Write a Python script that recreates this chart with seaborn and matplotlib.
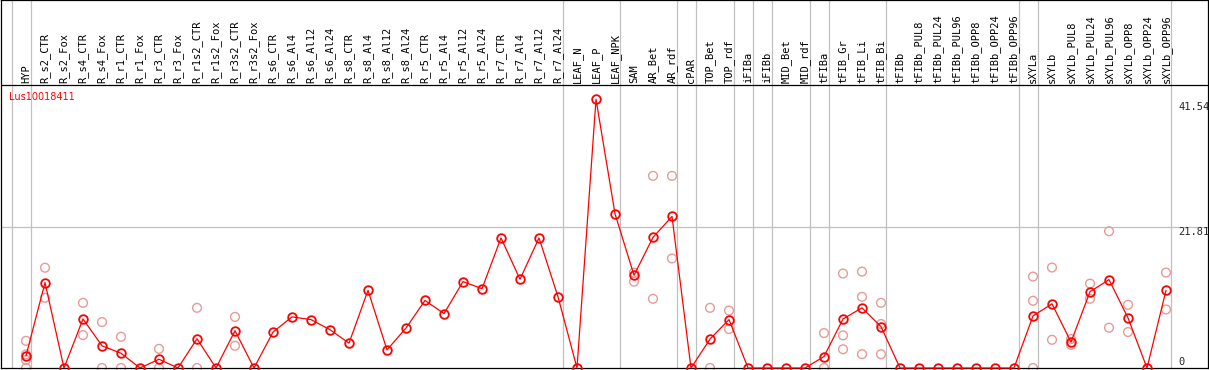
import pandas as pd
import numpy as np
import matplotlib
matplotlib.use('Agg')
import matplotlib.pyplot as plt
import seaborn as sns

sns.set_style('white')
plt.rcParams['font.family'] = ['DejaVu Sans']

# Datos
gene = 'Lus10018411'
categories = ['HYP', 'R_s2_CTR', 'R_s2_Fox', 'R_s4_CTR', 'R_s4_Fox', 'R_r1_CTR', 'R_r1_Fox',
              'R_r3_CTR', 'R_r3_Fox', 'R_r1s2_CTR', 'R_r1s2_Fox', 'R_r3s2_CTR', 'R_r3s2_Fox',
              'R_s6_CTR', 'R_s6_Al4', 'R_s6_Al12', 'R_s6_Al24', 'R_s8_CTR', 'R_s8_Al4',
              'R_s8_Al12', 'R_s8_Al24', 'R_r5_CTR', 'R_r5_Al4', 'R_r5_Al12', 'R_r5_Al24',
              'R_r7_CTR', 'R_r7_Al4', 'R_r7_Al12', 'R_r7_Al24', 'LEAF_N', 'LEAF_P', 'LEAF_NPK',
              'SAM', 'AR_Bet', 'AR_rdf', 'cPAR', 'TOP_Bet', 'TOP_rdf', 'iFIBa', 'iFIBb',
              'MID_Bet', 'MID_rdf', 'tFIBa', 'tFIB_Gr', 'tFIB_Li', 'tFIB_Bi', 'tFIBb',
              'tFIBb_PUL8', 'tFIBb_PUL24', 'tFIBb_PUL96', 'tFIBb_OPP8', 'tFIBb_OPP24',
              'tFIBb_OPP96', 'sXYLa', 'sXYLb', 'sXYLb_PUL8', 'sXYLb_PUL24', 'sXYLb_PUL96',
              'sXYLb_OPP8', 'sXYLb_OPP24', 'sXYLb_OPP96']

means = [1.87, 13.2, 0, 7.58, 3.43, 2.28, 0, 1.35, 0, 4.52, 0, 5.76, 0,
         5.55, 7.9, 7.48, 5.92, 3.84, 12.0, 2.8, 6.18, 10.44, 8.41, 13.35, 12.26,
         20.1, 13.71, 20.1, 11.0, 0, 41.54, 23.84, 14.33, 20.2, 23.42, 0, 4.47, 7.48,
         0, 0, 0, 0, 1.77, 7.58, 9.3, 6.39, 0, 0, 0, 0, 0, 0, 0,
         8.05, 9.92, 4.0, 11.79, 13.66, 7.74, 0, 12.0]

replicates = {
    'HYP': [4.2, 2.1, 1.25, 0],
    'R_s2_CTR': [15.5, 10.85],
    'R_s4_CTR': [10.07, 5.09],
    'R_s4_Fox': [7.1, 0],
    'R_r1_CTR': [4.83, 0],
    'R_r3_CTR': [2.96, 0],
    'R_r1s2_CTR': [9.3, 0],
    'R_r3s2_CTR': [7.9, 3.43],
    'SAM': [14.75, 13.35],
    'AR_Bet': [29.7, 10.7],
    'AR_rdf': [29.7, 16.93],
    'TOP_Bet': [9.3, 0],
    'TOP_rdf': [8.88, 6.02],
    'tFIBa': [5.4, 0],
    'tFIB_Gr': [14.6, 5.04, 2.9],
    'tFIB_Li': [14.9, 11.0, 2.13],
    'tFIB_Bi': [10.07, 6.8, 2.13],
    'sXYLa': [14.13, 10.39, 0],
    'sXYLb': [15.53, 4.36],
    'sXYLb_PUL8': [4.47, 3.58],
    'sXYLb_PUL24': [13.04, 10.7],
    'sXYLb_PUL96': [21.14, 6.23],
    'sXYLb_OPP8': [9.77, 5.56],
    'sXYLb_OPP96': [14.75, 9.04],
}

# ultimo indice de cada grupo (linea separadora despues)
group_ends = [-1, 0, 28, 31, 34, 35, 37, 38, 39, 41, 42, 45, 52, 53, 60]
y_ticks = [0, 21.81, 41.54]

# tablas para seaborn
df = pd.DataFrame({'pos': np.arange(len(categories)), 'cat': categories, 'valor': means})
rep_rows = [(categories.index(c), v) for c, vals in replicates.items() for v in vals]
df_rep = pd.DataFrame(rep_rows, columns=['pos', 'valor'])

fig = plt.figure(figsize=(12.09, 3.70), dpi=100)
ax = fig.add_axes([1 / 1209, 2 / 370, 1207 / 1209, 368 / 370])

px_unit = 6.47
y_top = 368 / px_unit
y_head = (368 - 85) / px_unit
ax.set_xlim(-1.316, 62.21)
ax.set_ylim(0, y_top)

# separadores verticales y linea horizontal
for e in group_ends:
    ax.axvline(e + 0.25, color='#c0c0c0', lw=0.9, zorder=0)
ax.axhline(y_ticks[1], color='#c0c0c0', lw=0.9, zorder=0)
ax.axhline(y_head, color='black', lw=0.9, zorder=1)

sns.scatterplot(data=df_rep, x='pos', y='valor', ax=ax, marker='o', s=40,
                facecolor='none', edgecolor='#e89a9a', linewidth=1.0, clip_on=False, zorder=2)
sns.lineplot(data=df, x='pos', y='valor', ax=ax, color='red', lw=0.9, marker='o',
             markersize=6.2, markerfacecolor='none', markeredgecolor='red',
             markeredgewidth=1.3, clip_on=False, zorder=3)

# etiquetas de categoria verticales
for i, c in enumerate(categories):
    ax.text(i, y_head + 0.3, c, rotation=90, ha='center', va='bottom',
            fontsize=7.5, family='DejaVu Sans Mono', color='black')

# etiquetas de eje a la derecha
tick_x = (1178 - 26) / 19
ax.text(tick_x, (368 - 107) / px_unit, f'{y_ticks[2]:.2f}', ha='left', va='center',
        fontsize=7.5, family='DejaVu Sans Mono')
ax.text(tick_x, (368 - 232) / px_unit, f'{y_ticks[1]:.2f}', ha='left', va='center',
        fontsize=7.5, family='DejaVu Sans Mono')
ax.text(tick_x, (368 - 362) / px_unit, '0', ha='left', va='center',
        fontsize=7.5, family='DejaVu Sans Mono')

ax.text((9 - 26) / 19, (368 - 97) / px_unit, gene, ha='left', va='center',
        fontsize=7, color='red')

ax.set_xlabel('')
ax.set_ylabel('')
ax.set_xticks([])
ax.set_yticks([])
for s in ax.spines.values():
    s.set_color('black')
    s.set_linewidth(0.9)

fig.savefig('out.png', dpi=100)
